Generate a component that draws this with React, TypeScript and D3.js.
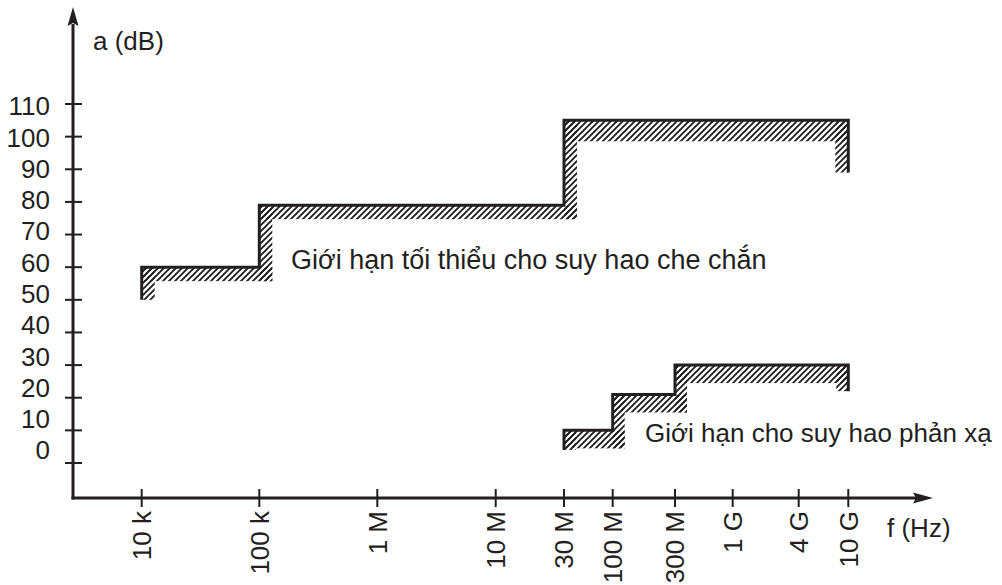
import React from "react";
import * as d3 from "d3";

// ---- data ----
const freqTicks = [1e4, 1e5, 1e6, 1e7, 3e7, 1e8, 3e8, 1e9, 4e9, 1e10];
const freqLabels = ["10 k", "100 k", "1 M", "10 M", "30 M", "100 M", "300 M", "1 G", "4 G", "10 G"];
const dbTicks = [0, 10, 20, 30, 40, 50, 60, 70, 80, 90, 100, 110];
const dbLabels = ["0", "10", "20", "30", "40", "50", "60", "70", "80", "90", "100", "110"];

const shieldingF = [1e4, 1e4, 1e5, 1e5, 3e7, 3e7, 1e10, 1e10];
const shieldingDb = [50, 60, 60, 79, 79, 105, 105, 89];
const reflectionF = [3e7, 3e7, 1e8, 1e8, 3e8, 3e8, 1e10, 1e10];
const reflectionDb = [4, 10, 10, 21, 21, 30, 30, 22];

const shieldingLabel = "Giới hạn tối thiểu cho suy hao che chắn";
const reflectionLabel = "Giới hạn cho suy hao phản xạ";
const yTitle = "a (dB)";
const xTitle = "f (Hz)";

// ---- layout ----
const W = 1002;
const H = 585;
const INK = "#231f20";
const FONT = "'Liberation Sans', Arial, Helvetica, sans-serif";
const axisX = 73;
const axisY = 498;
const tickPx = [141.7, 259.3, 377.3, 495.7, 564, 612.7, 675, 732.7, 798.7, 848.3];

const x = d3.scaleLog().domain(freqTicks).range(tickPx);
const y = d3.scaleLinear().domain([0, 110]).range([463, 104]);
const yLab = d3.scaleLinear().domain([0, 110]).range([450, 106]);

type P = { x: number; y: number };

function bandRects(pts: P[], hb: number[], vb: number) {
  const rects: { x: number; y: number; w: number; h: number }[] = [];
  const dirs = pts.slice(1).map((q, i) => {
    const p = pts[i];
    const len = Math.hypot(q.x - p.x, q.y - p.y) || 1;
    return { ux: (q.x - p.x) / len, uy: (q.y - p.y) / len };
  });
  let hi = 0;
  const widths = dirs.map((d) => (Math.abs(d.ux) > 0.5 ? hb[hi++] : vb));
  const cross = (a: any, b: any) => a.ux * b.uy - a.uy * b.ux;
  dirs.forEach((d, i) => {
    const p = pts[i];
    const q = pts[i + 1];
    const w = widths[i];
    const es = i > 0 && cross(dirs[i - 1], d) < 0 ? widths[i - 1] : 0;
    const ee = i < dirs.length - 1 && cross(d, dirs[i + 1]) < 0 ? widths[i + 1] : 0;
    const nx = -d.uy;
    const ny = d.ux;
    const ax = p.x - d.ux * es;
    const ay = p.y - d.uy * es;
    const bx = q.x + d.ux * ee + nx * w;
    const by = q.y + d.uy * ee + ny * w;
    rects.push({
      x: Math.min(ax, bx),
      y: Math.min(ay, by),
      w: Math.abs(bx - ax),
      h: Math.abs(by - ay),
    });
  });
  return rects;
}

function Series({ fs, dbs, hb, vb }: { fs: number[]; dbs: number[]; hb: number[]; vb: number }) {
  const pts = fs.map((f, i) => ({ x: x(f), y: y(dbs[i]) }));
  const rects = bandRects(pts, hb, vb);
  const line = d3.line<P>().x((d) => d.x).y((d) => d.y);
  return (
    <g>
      {rects.map((r, i) => (
        <rect key={i} x={r.x} y={r.y} width={r.w} height={r.h} fill="url(#hatch)" />
      ))}
      <path d={line(pts) || ""} fill="none" stroke={INK} strokeWidth={3} strokeLinejoin="miter" strokeLinecap="butt" />
    </g>
  );
}

export default function App() {
  return (
    <svg
      width={W}
      height={H}
      viewBox={`0 0 ${W} ${H}`}
      style={{ position: "absolute", left: 0, top: 0, background: "#fff" }}
      fontFamily={FONT}
    >
      <defs>
        <pattern id="hatch" patternUnits="userSpaceOnUse" width={6} height={6}>
          <path d="M0,6 L6,0 M-1.5,1.5 L1.5,-1.5 M4.5,7.5 L7.5,4.5" stroke={INK} strokeWidth={1.9} />
        </pattern>
      </defs>
      <rect width={W} height={H} fill="#fff" />

      {/* y axis */}
      <line x1={axisX} y1={axisY + 1.5} x2={axisX} y2={24} stroke={INK} strokeWidth={3} />
      <path d={`M${axisX},7 L${axisX + 5.5},26 L${axisX},23 L${axisX - 5.5},26 Z`} fill={INK} />
      {dbTicks.map((v, i) => (
        <g key={v}>
          <line x1={65} x2={82} y1={y(v)} y2={y(v)} stroke={INK} strokeWidth={2} />
          <text x={50} y={yLab(v)} dy="0.36em" textAnchor="end" fontSize={26} fill={INK}>
            {dbLabels[i]}
          </text>
        </g>
      ))}
      <text x={93} y={50} fontSize={26} fill={INK}>
        {yTitle}
      </text>

      {/* x axis */}
      <line x1={axisX - 1.5} y1={axisY} x2={916} y2={axisY} stroke={INK} strokeWidth={3} />
      <path d={`M933,${axisY} L913,${axisY - 5.5} L916,${axisY} L913,${axisY + 5.5} Z`} fill={INK} />
      {freqTicks.map((f, i) => (
        <g key={f}>
          <line x1={x(f)} x2={x(f)} y1={489} y2={507} stroke={INK} strokeWidth={2} />
          <text
            transform={`translate(${x(f)},511) rotate(-90)`}
            dy="0.36em"
            textAnchor="end"
            fontSize={26}
            fill={INK}
          >
            {freqLabels[i]}
          </text>
        </g>
      ))}
      <text x={887} y={537} fontSize={26} fill={INK}>
        {xTitle}
      </text>

      {/* series */}
      <Series fs={shieldingF} dbs={shieldingDb} hb={[14, 14, 21]} vb={13} />
      <Series fs={reflectionF} dbs={reflectionDb} hb={[18, 18, 18]} vb={12} />

      <text x={291} y={269} fontSize={27} fill={INK}>
        {shieldingLabel}
      </text>
      <text x={645} y={442} fontSize={26} fill={INK}>
        {reflectionLabel}
      </text>
    </svg>
  );
}
